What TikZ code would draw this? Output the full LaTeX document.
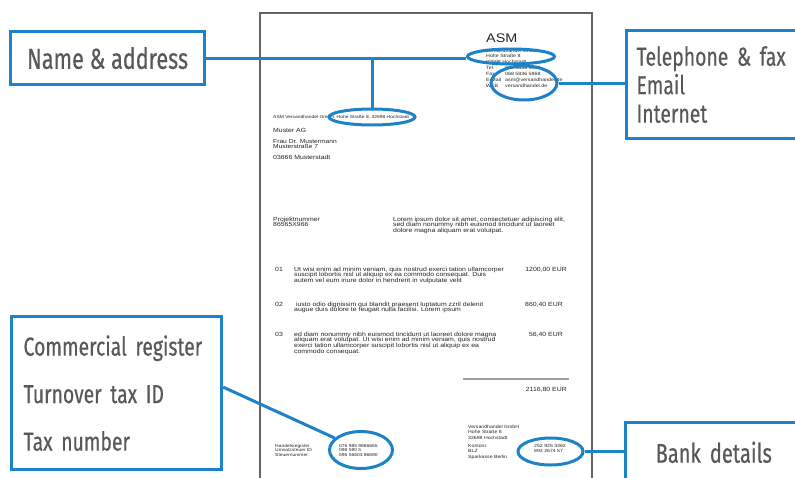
\documentclass[tikz,border=0pt]{standalone}
\usepackage{fontspec}
\setmainfont[FakeStretch=1.15]{Liberation Sans}
\newfontfamily\boxfont[FakeStretch=0.745,FakeBold=0.4]{Fira Sans}
\usetikzlibrary{shapes.geometric}
\definecolor{hlblue}{RGB}{30,130,200}
\definecolor{lbltext}{RGB}{88,88,88}
\definecolor{pageline}{RGB}{100,100,100}
\definecolor{ruleline}{RGB}{160,160,160}
\newcommand\leftlines[1]{\vtop{\lineskiplimit=-100pt\halign{##\hfil\cr#1\crcr}}}
\begin{document}
\begin{tikzpicture}[x=1pt,y=-1pt,
  callout/.style={draw=hlblue,line width=3.2pt,fill=white,text=lbltext,
    font=\boxfont\fontsize{26}{28.5}\selectfont,inner sep=0pt,anchor=north west},
  ring/.style={ellipse,draw=hlblue,line width=3pt,inner sep=0pt},
  link/.style={draw=hlblue,line width=3pt},
  doc/.style={inner sep=0pt,anchor=base west,text=black!85},
  docr/.style={inner sep=0pt,anchor=base east,text=black!85},
  hdr/.style={font=\fontsize{4.6}{5.9}\selectfont},
  body/.style={font=\fontsize{6}{5.7}\selectfont},
  tiny/.style={font=\fontsize{4.3}{4.9}\selectfont}
]
\useasboundingbox[fill=white] (0,0) rectangle (795,477);

% page
\draw[pageline,line width=1.5pt] (260,13) rectangle (592,500);

% header
\node[doc,font=\fontsize{12.5}{14}\selectfont] (asm) at (486,42) {ASM};
\node[doc,hdr] (hdr) at (486,52) {\leftlines{Versandhandel GmbH\cr Hohe Straße 8\cr 32698 Hochstadt\cr Tel.\cr Fax\cr E-Mail\cr WEB}};
\node[doc,hdr] (hdrv) at (505,69.7) {\leftlines{068 5836 5867\cr 068 5836 5868\cr asm@versandhandel.de\cr versandhandel.de}};

% sender line and recipient
\node[doc,tiny] (sender) at (273,118.5) {ASM Versandhandel GmbH, Hohe Straße 8, 32698 Hochstadt};
\node[doc,body] (rcp1) at (273,132.5) {Muster AG};
\node[doc,body,font=\fontsize{5.8}{5.3}\selectfont] (rcp2) at (273,143.5) {\leftlines{Frau Dr. Mustermann\cr Musterstraße 7}};
\node[doc,body] (rcp3) at (273,159) {03666 Musterstadt};

% project
\node[doc,body] (proj) at (273,221) {\leftlines{Projektnummer\cr 86565X966}};
\node[doc,body] (intro) at (393,221) {\leftlines{Lorem ipsum dolor sit amet, consectetuer adipiscing elit,\cr sed diam nonummy nibh euismod tincidunt ut laoreet\cr dolore magna aliquam erat volutpat.}};

% items
\node[doc,body] (n1) at (275,271) {01};
\node[doc,body] (t1) at (294,271) {\leftlines{Ut wisi enim ad minim veniam, quis nostrud exerci tation ullamcorper\cr suscipit lobortis nisl ut aliquip ex ea commodo consequat. Duis\cr autem vel eum iriure dolor in hendrerit in vulputate velit}};
\node[docr,body] (a1) at (567,271) {1200,00 EUR};
\node[doc,body] (n2) at (275,306) {02};
\node[doc,body] (t2) at (294,306) {\leftlines{\ iusto odio dignissim qui blandit praesent luptatum zzril delenit\cr augue duis dolore te feugait nulla facilisi. Lorem ipsum}};
\node[docr,body] (a2) at (563,306) {860,40 EUR};
\node[doc,body] (n3) at (275,336) {03};
\node[doc,body] (t3) at (294,336) {\leftlines{ed diam nonummy nibh euismod tincidunt ut laoreet dolore magna\cr aliquam erat volutpat. Ut wisi enim ad minim veniam, quis nostrud\cr exerci tation ullamcorper suscipit lobortis nisl ut aliquip ex ea\cr commodo consequat.}};
\node[docr,body] (a3) at (563,336) {56,40 EUR};
\draw[ruleline,line width=1.5pt] (463,379) -- (569,379);
\node[docr,body] (total) at (567,391) {2116,80 EUR};

% footer
\node[doc,tiny] (fl) at (275,447) {\leftlines{Handelsregister\cr Umsatzsteuer ID\cr Steuernummer}};
\node[doc,tiny] (fv) at (339,447) {\leftlines{076 985 9866665\cr 098 590 5\cr 596 56603 86690}};
\node[doc,tiny,font=\fontsize{4.5}{5.6}\selectfont] (fr) at (468,428) {\leftlines{Versandhandel GmbH\cr Hohe Straße 8\cr 32698 Hochstadt}};
\node[doc,tiny,font=\fontsize{4.5}{5.6}\selectfont] (fb) at (468,447) {\leftlines{Kontonr.\cr BLZ\cr Sparkasse Berlin}};
\node[doc,tiny,font=\fontsize{4.5}{5.6}\selectfont] (fbv) at (534,447) {\leftlines{252 925 3362\cr 893 2674 57}};

% highlight rings
\node[ring,minimum width=87pt,minimum height=15pt] (e1) at (511,56.5) {};
\node[ring,minimum width=86pt,minimum height=16pt] (e2) at (372,117) {};
\node[ring,minimum width=66pt,minimum height=34pt] (e3) at (524,83) {};
\node[ring,minimum width=63pt,minimum height=37pt] (e4) at (361,450) {};
\node[ring,minimum width=65pt,minimum height=27pt] (e5) at (550.5,451.5) {};

% callout boxes
\node[callout,minimum width=194pt,minimum height=53pt,align=center,font=\boxfont\fontsize{29}{30}\selectfont] (nb) at (9,30) {Name \& address};
\node[callout,minimum height=108pt,text width=175pt,inner xsep=10pt,align=left] (tb) at (625,29) {Telephone \& fax\\Email\\Internet};
\node[callout,minimum height=153pt,text width=186pt,inner xsep=12pt,align=left,font=\boxfont\fontsize{26}{47.5}\selectfont] (cb) at (10,315) {\mbox{Commercial register}\\\mbox{Turnover tax ID}\\\mbox{Tax number}};
\node[callout,minimum height=59.4pt,text width=160pt,inner xsep=30pt,align=left,font=\boxfont\fontsize{27}{28}\selectfont] (bb) at (624,421) {Bank details};

% connectors
\draw[link] (nb.east) -- (nb.east -| e1.west);
\draw[link] (e2.north |- nb.east) -- (e2.north);
\draw[link] (e3.east) -- (e3.east -| tb.west);
\draw[link] ([yshift=6pt]cb.east) -- (e4);
\draw[link] (e5.east) -- (e5.east -| bb.west);
\end{tikzpicture}
\end{document}
